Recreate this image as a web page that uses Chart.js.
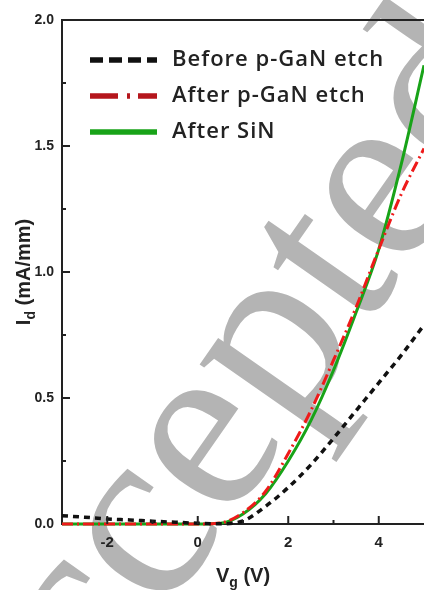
<!DOCTYPE html>
<html>
<head>
<meta charset="utf-8">
<script src="https://cdn.jsdelivr.net/npm/chart.js@4"></script>
<style>
  html, body { margin: 0; padding: 0; background: #fff; }
  #wrap { width: 424px; height: 590px; position: relative; }
</style>
</head>
<body>
<div id="wrap"><canvas id="idvg"></canvas></div>
<script>
// gate voltage (V)
const vg = [-3, -2.5, -2, -1.5, -1, -0.5, 0, 0.5, 1, 1.5, 2, 2.5, 3, 3.5, 4, 4.5, 5];

// drain current (mA/mm)
const idBefore = [0.033, 0.027, 0.020, 0.016, 0.011, 0.007, 0.003, 0.001, 0.012, 0.07, 0.145, 0.235, 0.34, 0.45, 0.56, 0.67, 0.79];
const idAfterEtch = [0, 0, 0, 0, 0, 0, 0, 0.004, 0.045, 0.13, 0.28, 0.45, 0.65, 0.86, 1.09, 1.31, 1.49];
const idAfterSiN = [0, 0, 0, 0, 0, 0, 0, 0.003, 0.04, 0.12, 0.25, 0.41, 0.61, 0.84, 1.09, 1.43, 1.82];

const seriesNames = ['Before p-GaN etch', 'After p-GaN etch', 'After SiN'];
const xTickLabels = [-2, 0, 2, 4];
const yTickLabels = [0, 0.5, 1.0, 1.5, 2.0];

function pts(ys) {
    return vg.map((v, i) => ({ x: v, y: ys[i] }));
}

// 浮水印 "Accepted"
const watermark = {
    id: 'watermark',
    beforeDraw(chart) {
        const ctx = chart.ctx;
        const em = 250;
        ctx.save();
        ctx.font = em + 'px "Liberation Serif"';
        ctx.fillStyle = '#b4b4b4';
        ctx.translate(148, 538);
        ctx.rotate(-55 * Math.PI / 180);
        // anchor on the centre of the second "c"
        const pre = ctx.measureText('Ac').width + ctx.measureText('c').width / 2;
        ctx.fillText('Accepted', -pre, 0.23 * em);
        ctx.restore();
    }
};

// 圖例樣式
const legendDash = [[13, 6], [28, 9, 3, 8], []];
const legendColor = ['#111', '#b5161c', '#18a318'];

// 刻度線 (朝內), 上框線, 軸標題, 圖例
const decorations = {
    id: 'decorations',
    afterDraw(chart) {
        const ctx = chart.ctx;
        const area = chart.chartArea;
        const xs = chart.scales.x;
        const ys = chart.scales.y;
        ctx.save();
        ctx.strokeStyle = '#222';
        ctx.lineWidth = 2;

        // top frame line
        ctx.beginPath();
        ctx.moveTo(area.left, area.top);
        ctx.lineTo(chart.width, area.top);
        ctx.stroke();

        // x ticks
        xs.ticks.forEach(t => {
            if (t.value <= xs.min || t.value >= xs.max) return;
            const px = xs.getPixelForValue(t.value);
            const len = (t.value % 2 === 0) ? 8 : 4;
            ctx.beginPath();
            ctx.moveTo(px, area.bottom);
            ctx.lineTo(px, area.bottom - len);
            ctx.stroke();
        });
        // y ticks
        ys.ticks.forEach(t => {
            if (t.value <= ys.min || t.value >= ys.max) return;
            const py = ys.getPixelForValue(t.value);
            const major = Math.abs(t.value * 2 - Math.round(t.value * 2)) < 1e-6;
            ctx.beginPath();
            ctx.moveTo(area.left, py);
            ctx.lineTo(area.left + (major ? 8 : 4), py);
            ctx.stroke();
        });

        // axis titles
        ctx.fillStyle = '#222';
        ctx.textBaseline = 'alphabetic';
        const big = 'bold 20px "Liberation Sans"';
        const small = 'bold 14px "Liberation Sans"';
        function subTitle(main, sub, rest, cx, cy, rot) {
            ctx.save();
            ctx.translate(cx, cy);
            ctx.rotate(rot);
            ctx.font = big; const w1 = ctx.measureText(main).width;
            const w3 = ctx.measureText(rest).width;
            ctx.font = small; const w2 = ctx.measureText(sub).width;
            let x0 = -(w1 + w2 + w3) / 2;
            ctx.font = big; ctx.fillText(main, x0, 7);
            ctx.font = small; ctx.fillText(sub, x0 + w1, 12);
            ctx.font = big; ctx.fillText(rest, x0 + w1 + w2, 7);
            ctx.restore();
        }
        subTitle('V', 'g', ' (V)', (area.left + chart.width) / 2, 575, 0);
        subTitle('I', 'd', ' (mA/mm)', 23, (area.top + area.bottom) / 2, -Math.PI / 2);

        // legend
        const rows = [60, 96, 132];
        ctx.font = '600 22px "Open Sans"';
        ctx.letterSpacing = '1px';
        chart.data.datasets.forEach((ds, i) => {
            const y = rows[i];
            ctx.strokeStyle = legendColor[i];
            ctx.lineWidth = 5.5;
            ctx.setLineDash(legendDash[i]);
            ctx.beginPath();
            ctx.moveTo(90, y);
            ctx.lineTo(157, y);
            ctx.stroke();
            ctx.setLineDash([]);
            ctx.fillStyle = '#222';
            ctx.textBaseline = 'middle';
            ctx.fillText(ds.label, 172, y);
        });
        ctx.restore();
    }
};

const ctx = document.getElementById('idvg').getContext('2d');
const chart = new Chart(ctx, {
    type: 'line',
    data: {
        datasets: [{
            label: seriesNames[0],
            data: pts(idBefore),
            borderColor: '#111',
            borderWidth: 3.5,
            borderDash: [6, 5],
            pointRadius: 0,
            clip: false,
            cubicInterpolationMode: 'monotone'
        }, {
            label: seriesNames[1],
            data: pts(idAfterEtch),
            borderColor: '#ee1a1a',
            borderWidth: 3,
            borderDash: [11, 4, 2, 4],
            pointRadius: 0,
            clip: false,
            cubicInterpolationMode: 'monotone'
        }, {
            label: seriesNames[2],
            data: pts(idAfterSiN),
            borderColor: '#18a318',
            borderWidth: 3,
            pointRadius: 0,
            clip: false,
            cubicInterpolationMode: 'monotone'
        }]
    },
    options: {
        responsive: true,
        maintainAspectRatio: false,
        animation: false,
        layout: { padding: { top: 20, right: 0, left: 0, bottom: 0 } },
        plugins: {
            legend: { display: false },
            tooltip: { enabled: false }
        },
        scales: {
            x: {
                type: 'linear',
                min: -3,
                max: 5,
                afterFit: s => { s.height = 66; s.paddingLeft = 0; s.paddingRight = 0; },
                grid: { display: false, drawTicks: false },
                border: { display: true, color: '#222', width: 2 },
                ticks: {
                    stepSize: 1,
                    autoSkip: false,
                    maxRotation: 0,
                    padding: 10,
                    color: '#222',
                    font: { family: 'Liberation Sans', size: 15, weight: 'bold' },
                    callback: v => xTickLabels.includes(v) ? String(v) : ''
                }
            },
            y: {
                min: 0,
                max: 2,
                afterFit: s => { s.width = 62; s.paddingTop = 0; s.paddingBottom = 0; },
                grid: { display: false, drawTicks: false },
                border: { display: true, color: '#222', width: 2 },
                ticks: {
                    stepSize: 0.25,
                    autoSkip: false,
                    padding: 8,
                    color: '#222',
                    font: { family: 'Liberation Sans', size: 14, weight: 'bold' },
                    callback: v => yTickLabels.some(t => Math.abs(t - v) < 1e-6) ? v.toFixed(1) : ''
                }
            }
        }
    },
    plugins: [watermark, decorations]
});
</script>
</body>
</html>
